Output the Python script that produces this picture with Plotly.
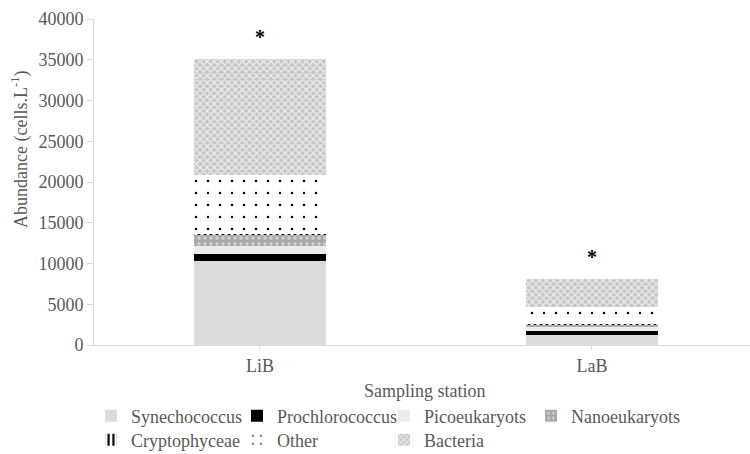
import plotly.graph_objects as go

stations = ["LiB", "LaB"]
synechococcus = [10300, 1250]
prochlorococcus = [900, 450]
picoeukaryots = [900, 450]
nanoeukaryots = [1500, 350]
cryptophyceae = [50, 30]
other = [7200, 2100]
bacteria = [14200, 3500]
y_ticks = [0, 5000, 10000, 15000, 20000, 25000, 30000, 35000, 40000]
y_tick_labels = [str(v) for v in y_ticks]

FONT = "Liberation Serif"
GREY = "#595959"

# plot area geometry (pixels)
L, T, B, W, H = 94, 19, 109, 750, 454
PW, PH = W - L, H - T - B

series = [
    ("Synechococcus", synechococcus, dict(color="#dcdcdc")),
    ("Prochlorococcus", prochlorococcus, dict(color="#000000")),
    ("Picoeukaryots", picoeukaryots, dict(color="#ececec")),
    ("Nanoeukaryots", nanoeukaryots,
     dict(color="#a9a9a9", pattern=dict(shape=".", fgcolor="#d2d2d2", bgcolor="#a9a9a9",
                                        size=6, solidity=0.25, fillmode="replace"))),
    ("Cryptophyceae", cryptophyceae,
     dict(color="#ffffff", pattern=dict(shape="|", fgcolor="#000000", bgcolor="#ffffff",
                                        size=6, solidity=0.45, fillmode="replace"))),
    ("Other", other,
     dict(color="#ffffff", pattern=dict(shape=".", fgcolor="#000000", bgcolor="#ffffff",
                                        size=12, solidity=0.035, fillmode="replace"))),
    ("Bacteria", bacteria,
     dict(color="#c8c8c8", pattern=dict(shape="x", fgcolor="#eeeeee", bgcolor="#c6c6c6",
                                        size=5, solidity=0.45, fillmode="replace"))),
]

# legend grid: (text start x, row centre y) in pixels
legend_pos = [(132, 416), (278, 416), (425, 416), (572, 416),
              (132, 440), (278, 440), (425, 440)]

fig = go.Figure()
layout_legends = {}
for i, ((name, vals, marker), (lx, ly)) in enumerate(zip(series, legend_pos)):
    marker = dict(marker)
    marker["line"] = dict(width=0)
    key = "legend" if i == 0 else f"legend{i + 1}"
    fig.add_trace(go.Bar(name=name, x=stations, y=vals, marker=marker, width=0.40,
                         legend=key))
    layout_legends[key] = dict(
        orientation="h", xanchor="left", yanchor="middle",
        x=(lx - 41 - L) / PW, y=(H - B - ly) / PH,
        bgcolor="rgba(0,0,0,0)", borderwidth=0,
        font=dict(family=FONT, size=18, color=GREY))

totals = [sum(v) for v in zip(synechococcus, prochlorococcus, picoeukaryots, nanoeukaryots,
                              cryptophyceae, other, bacteria)]
annotations = []
for st, tot in zip(stations, totals):
    annotations.append(dict(x=st, y=tot + 2700, xref="x", yref="y", text="<b>*</b>",
                            showarrow=False, font=dict(family=FONT, size=20, color="#000000")))

annotations.append(dict(x=0.5, y=0, xref="paper", yref="paper", yanchor="middle",
                        yshift=-46, xshift=3, showarrow=False, text="Sampling station",
                        font=dict(family=FONT, size=18, color=GREY)))
annotations.append(dict(x=0, y=(H - B - 150) / PH, xref="paper", yref="paper",
                        xanchor="center", yanchor="middle", xshift=-74, textangle=-90,
                        showarrow=False, text="Abundance (cells.L<sup>-1</sup>)",
                        font=dict(family=FONT, size=18, color=GREY)))

fig.update_layout(
    width=W, height=H,
    margin=dict(l=L, r=0, t=T, b=B, autoexpand=False),
    plot_bgcolor="white", paper_bgcolor="white",
    barmode="stack",
    font=dict(family=FONT, size=18, color=GREY),
    xaxis=dict(type="category", range=[-0.5, 1.476], showline=True, linecolor="#d9d9d9",
               linewidth=1, ticks="outside", ticklen=4, tickcolor="#d9d9d9",
               tickfont=dict(family=FONT, size=18, color=GREY), showgrid=False,
               zeroline=False),
    yaxis=dict(range=[0, 40000], tickvals=y_ticks, ticktext=y_tick_labels, showline=True,
               linecolor="#d9d9d9", linewidth=1, ticks="outside", ticklen=6,
               tickcolor="#d9d9d9", tickfont=dict(family=FONT, size=18, color=GREY),
               showgrid=False, zeroline=False),
    annotations=annotations,
    showlegend=True,
    **layout_legends,
)

fig.write_html("out.html")
